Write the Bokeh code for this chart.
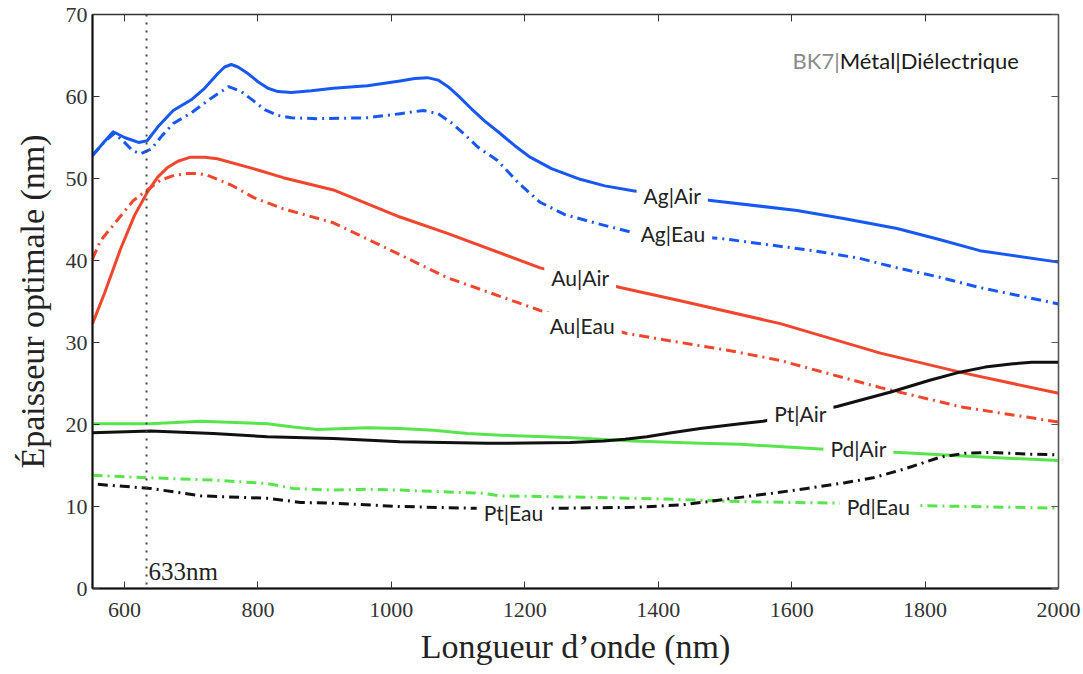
from bokeh.plotting import figure
from bokeh.models import Range1d, FixedTicker, LinearAxis, Span, Label
from bokeh.embed import file_html
from bokeh.resources import INLINE

# ---- data (wavelength in nm, optimal thickness in nm) ----
ag_air_x = [552, 570, 583, 600, 621, 634, 650, 673, 700, 720, 740, 750, 760, 770, 785, 800, 815, 830, 850, 880, 913, 964, 1013, 1035, 1054, 1070, 1085, 1100, 1120, 1140, 1160, 1185, 1208, 1240, 1283, 1320, 1362, 1482, 1608, 1680, 1758, 1820, 1882, 2000]
ag_air_y = [52.8, 54.5, 55.7, 55.0, 54.4, 54.6, 56.3, 58.3, 59.6, 61.0, 62.8, 63.6, 63.9, 63.6, 62.8, 61.8, 61.0, 60.6, 60.5, 60.7, 61.0, 61.3, 61.9, 62.2, 62.3, 62.0, 61.2, 60.1, 58.5, 57.0, 55.7, 54.0, 52.6, 51.2, 49.9, 49.1, 48.5, 47.3, 46.1, 45.1, 43.9, 42.6, 41.2, 39.8]

ag_eau_x = [552, 570, 585, 600, 612, 624, 640, 656, 673, 700, 730, 756, 775, 793, 810, 829, 850, 889, 964, 1013, 1048, 1070, 1090, 1108, 1130, 1159, 1190, 1223, 1260, 1309, 1362, 1493, 1632, 1700, 1758, 1820, 1882, 2000]
ag_eau_y = [52.8, 54.5, 55.5, 54.4, 53.4, 53.0, 53.6, 55.2, 56.7, 58.0, 59.8, 61.2, 60.6, 59.5, 58.4, 57.7, 57.4, 57.3, 57.4, 57.9, 58.3, 57.9, 56.8, 55.5, 53.8, 52.2, 49.5, 47.1, 45.6, 44.5, 43.4, 42.7, 41.2, 40.3, 39.1, 38.0, 36.7, 34.7]

au_air_x = [552, 570, 594, 615, 634, 650, 664, 680, 699, 720, 739, 793, 838, 913, 1013, 1084, 1223, 1343, 1433, 1583, 1733, 1857, 2000]
au_air_y = [32.3, 36.0, 41.4, 45.5, 48.3, 50.2, 51.3, 52.1, 52.6, 52.6, 52.4, 51.2, 50.1, 48.6, 45.3, 43.3, 39.1, 36.7, 35.1, 32.3, 28.7, 26.3, 23.8]

au_eau_x = [552, 564, 590, 613, 634, 654, 675, 694, 710, 724, 760, 793, 838, 913, 985, 1084, 1223, 1353, 1433, 1508, 1583, 1733, 1857, 2000]
au_eau_y = [40.2, 42.4, 45.0, 47.3, 48.6, 49.8, 50.4, 50.6, 50.6, 50.4, 49.2, 47.7, 46.3, 44.6, 41.8, 37.9, 33.9, 31.1, 30.0, 29.0, 27.8, 24.5, 22.1, 20.3]

pd_air_x = [552, 639, 714, 814, 853, 889, 964, 1013, 1063, 1114, 1163, 1264, 1362, 1463, 1523, 1643, 1762, 1872, 2000]
pd_air_y = [20.1, 20.1, 20.4, 20.1, 19.7, 19.4, 19.6, 19.5, 19.3, 18.9, 18.7, 18.4, 18.0, 17.7, 17.6, 17.0, 16.6, 16.1, 15.6]

pt_air_x = [552, 639, 733, 814, 913, 1013, 1144, 1268, 1318, 1350, 1383, 1420, 1463, 1523, 1557, 1668, 1750, 1807, 1848, 1890, 1932, 1960, 2000]
pt_air_y = [19.0, 19.2, 18.9, 18.5, 18.3, 17.9, 17.7, 17.8, 18.0, 18.2, 18.5, 19.0, 19.5, 20.1, 20.4, 22.2, 24.0, 25.4, 26.3, 27.0, 27.4, 27.6, 27.6]

pd_eau_x = [552, 639, 739, 814, 853, 913, 964, 1013, 1138, 1163, 1313, 1413, 1523, 1673, 1797, 2000]
pd_eau_y = [13.8, 13.5, 13.2, 12.8, 12.2, 12.0, 12.1, 12.0, 11.6, 11.3, 11.1, 10.9, 10.6, 10.4, 10.1, 9.8]

pt_eau_x = [560, 639, 714, 814, 864, 913, 1013, 1114, 1264, 1362, 1437, 1512, 1570, 1623, 1680, 1722, 1770, 1822, 1860, 1897, 1950, 2000]
pt_eau_y = [12.7, 12.2, 11.3, 11.0, 10.5, 10.4, 10.0, 9.8, 9.8, 9.9, 10.2, 11.0, 11.6, 12.2, 12.9, 13.5, 14.6, 16.0, 16.5, 16.6, 16.4, 16.3]

x_ticks = [600, 800, 1000, 1200, 1400, 1600, 1800, 2000]
y_ticks = [0, 10, 20, 30, 40, 50, 60, 70]

label_text = ["Ag|Air", "Ag|Eau", "Au|Air", "Au|Eau", "Pt|Air", "Pd|Air", "Pd|Eau", "Pt|Eau"]
label_x = [1421, 1422, 1283, 1286, 1613, 1700, 1730, 1183]
label_y = [47.9, 43.3, 37.9, 32.1, 21.3, 17.1, 10.0, 9.3]

ref_wavelength = 633
ref_label = "633nm"
title_grey = "BK7|"
title_dark = "Métal|Diélectrique"
title_x = 1672
title_y = 64.4

# ---- styles ----
BLUE = "#1858f2"
RED = "#f0462e"
GREEN = "#58e44c"
BLACK = "#111111"
DASHDOT = "10 5 2 5"
SERIF = "Liberation Serif"
SANS = "Lato"

p = figure(width=1083, height=674, output_backend="svg", toolbar_location=None,
           x_range=Range1d(552, 2000), y_range=Range1d(0, 70),
           min_border_left=92, min_border_right=25, min_border_top=14, min_border_bottom=86)
p.grid.visible = False
p.background_fill_color = "white"
p.border_fill_color = "white"
p.outline_line_color = "#333333"
p.outline_line_width = 1.5

series = [
    (ag_air_x, ag_air_y, BLUE, None),
    (ag_eau_x, ag_eau_y, BLUE, DASHDOT),
    (au_air_x, au_air_y, RED, None),
    (au_eau_x, au_eau_y, RED, DASHDOT),
    (pd_air_x, pd_air_y, GREEN, None),
    (pd_eau_x, pd_eau_y, GREEN, DASHDOT),
    (pt_air_x, pt_air_y, BLACK, None),
    (pt_eau_x, pt_eau_y, BLACK, DASHDOT),
]
for xs, ys, col, dash in series:
    kw = dict(line_color=col, line_width=3, line_join="round")
    if dash:
        kw["line_dash"] = dash
    p.line(xs, ys, **kw)

# vertical reference line
p.add_layout(Span(location=ref_wavelength, dimension="height", line_color="#444444",
                  line_width=2, line_dash="2 6"))
p.add_layout(Label(x=ref_wavelength + 3, y=0.4, text=ref_label, text_font=SERIF,
                   text_font_size="25px", text_color="#222222", text_baseline="bottom",
                   text_align="left"))

# curve labels (white background breaks the line)
for t, lx, ly in zip(label_text, label_x, label_y):
    p.add_layout(Label(x=lx, y=ly, text=t, text_font=SANS, text_font_size="21px",
                       text_color="#222222", text_align="center", text_baseline="middle",
                       background_fill_color="white",
                       padding=dict(left=7, right=7, top=1, bottom=1)))

p.add_layout(Label(x=title_x, y=title_y, text=title_grey, text_font=SANS, text_font_size="22px",
                   text_color="#8a8a8a", text_align="right", text_baseline="middle"))
p.add_layout(Label(x=title_x, y=title_y, text=title_dark, text_font=SANS, text_font_size="22px",
                   text_color="#1a1a1a", text_align="left", text_baseline="middle"))

# axes
xa = p.xaxis[0]
xa.ticker = FixedTicker(ticks=x_ticks)
ya = p.yaxis[0]
ya.ticker = FixedTicker(ticks=y_ticks)
for ax in (xa, ya):
    ax.major_tick_in = 7
    ax.major_tick_out = 0
    ax.minor_tick_in = 0
    ax.minor_tick_out = 0
    ax.axis_line_width = 2
    ax.axis_line_color = "#111111"
    ax.major_tick_line_color = "#333333"
    ax.major_label_text_font = SERIF
    ax.major_label_text_font_size = "22px"
    ax.major_label_text_color = "#333333"
    ax.axis_label_text_font = SERIF
    ax.axis_label_text_font_size = "34px"
    ax.axis_label_text_font_style = "normal"
    ax.axis_label_text_color = "#222222"
xa.axis_label = "Longueur d’onde (nm)"
xa.major_label_standoff = 14
xa.axis_label_standoff = 8
ya.axis_label = "Épaisseur optimale (nm)"
ya.major_label_standoff = 5
ya.axis_label_standoff = 12

top = LinearAxis(ticker=FixedTicker(ticks=x_ticks), major_label_text_font_size="1px",
                 major_label_text_color=None,
                 major_label_standoff=0, major_tick_in=7, major_tick_out=0,
                 minor_tick_in=0, minor_tick_out=0, axis_line_color="#333333",
                 major_tick_line_color="#333333")
right = LinearAxis(ticker=FixedTicker(ticks=y_ticks), major_label_text_font_size="1px",
                   major_label_text_color=None,
                   major_label_standoff=0, major_tick_in=7, major_tick_out=0,
                   minor_tick_in=0, minor_tick_out=0, axis_line_color="#555555",
                   major_tick_line_color="#555555")
p.add_layout(top, "above")
p.add_layout(right, "right")

open("out.html", "w").write(file_html(p, INLINE))
